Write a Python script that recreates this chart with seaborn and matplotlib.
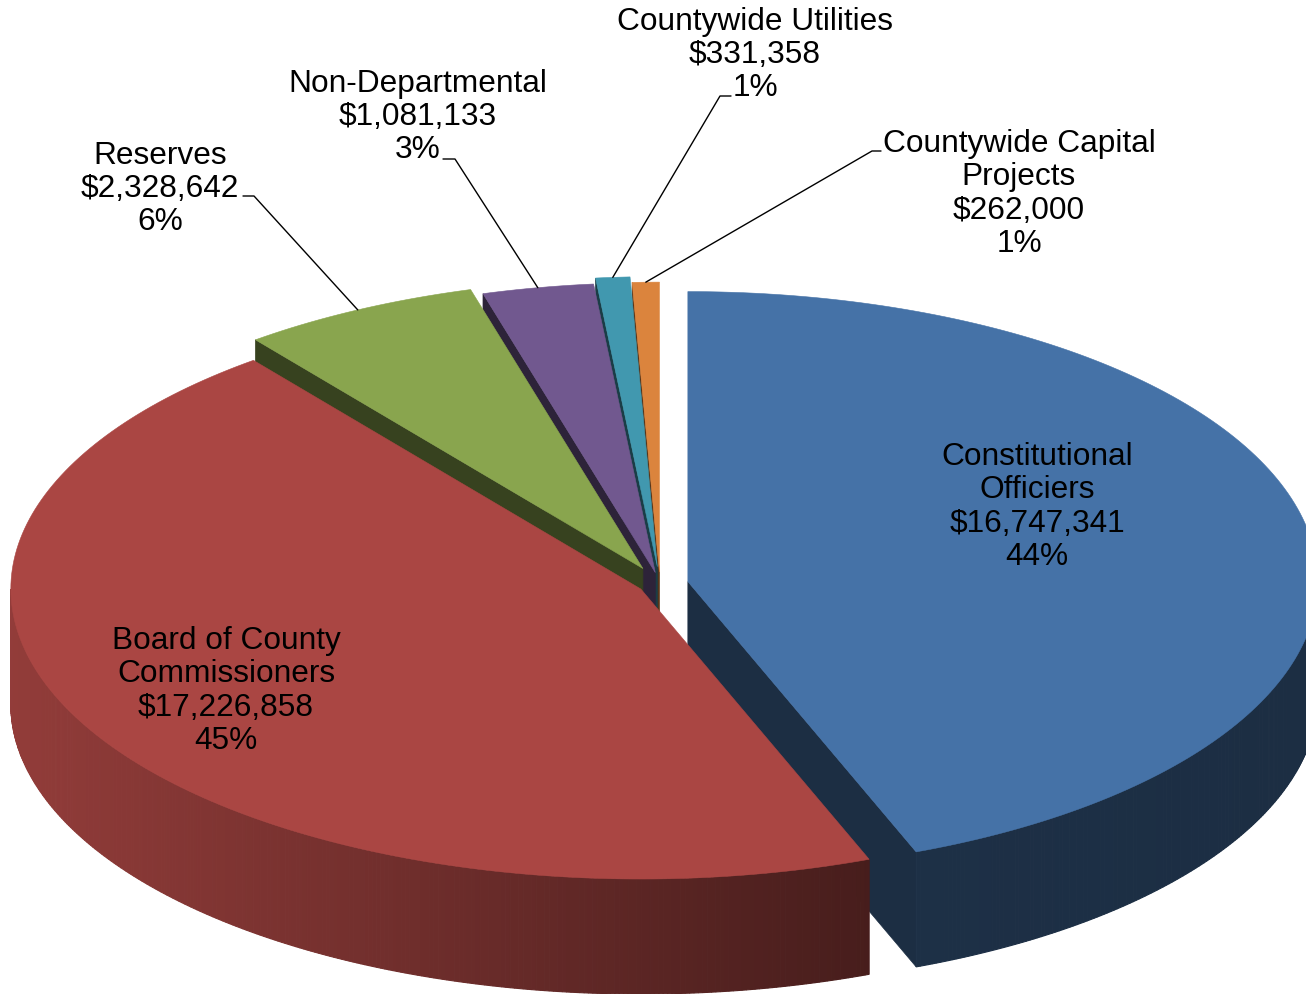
import numpy as np
import matplotlib
matplotlib.use("Agg")
import matplotlib.pyplot as plt
from matplotlib.patches import Polygon
from matplotlib.colors import to_rgb
import seaborn as sns

sns.set_theme(style="white")
plt.rcParams['font.family'] = ['Liberation Sans', 'DejaVu Sans']

# data
categories = ["Constitutional\nOfficiers", "Board of County\nCommissioners", "Reserves",
              "Non-Departmental", "Countywide Utilities", "Countywide Capital\nProjects"]
amounts = [16747341, 17226858, 2328642, 1081133, 331358, 262000]
pct_labels = ["44%", "45%", "6%", "3%", "1%", "1%"]

colors = sns.color_palette(["#4572A7", "#AA4643", "#89A54E", "#71588F", "#4198AF", "#DB843D"])
explode = [0.045, 0.035, 0.06, 0.04, 0.06, 0.041]

# layout of the 3d pie (pixel like units)
cx, cy = 660, 585
rx, ry = 630, 290
depth = 115

# label anchors: (x, y, leader line start or None)
label_pos = [
    (1037, 507, None),
    (226, 691, None),
    (160, 189, [(243, 197), (254, 197)]),
    (418, 117, [(443, 160), (455, 160)]),
    (755, 55, [(731, 97), (720, 97)]),
    (1019, 194, [(881, 152), (872, 152)]),
]

fig = plt.figure(figsize=(13.06, 9.95), dpi=100)
ax = fig.add_axes([0, 0, 1, 1])
ax.set_xlim(0, 1306)
ax.set_ylim(995, 0)
ax.axis("off")

fracs = np.array(amounts) / np.sum(amounts)
ends = 90 - 360 * np.cumsum(fracs)
starts = np.concatenate([[90], ends[:-1]])


def rim(x0, y0, t, dz=0):
    t = np.radians(t)
    return x0 + rx * np.cos(t), y0 - ry * np.sin(t) + dz


def shade(c, t):
    f = np.interp(np.cos(np.radians(t)), [-1, 0.36, 1], [0.86, 0.42, 0.40])
    return tuple(np.array(to_rgb(c)) * f)


slices = []
for i in range(len(amounts)):
    a1, a2 = ends[i], starts[i]
    mid = (a1 + a2) / 2
    x0 = cx + explode[i] * rx * np.cos(np.radians(mid))
    y0 = cy - explode[i] * ry * np.sin(np.radians(mid))
    slices.append((np.sin(np.radians(mid)), i, a1, a2, mid, x0, y0))

# back to front
for _, i, a1, a2, mid, x0, y0 in sorted(slices, reverse=True):
    c = colors[i]
    dark = tuple(np.array(to_rgb(c)) * 0.40)
    # radial faces
    for a, n in [(a2, a2 + 90), (a1, a1 - 90)]:
        if np.sin(np.radians(n)) < 0:
            px, py = rim(x0, y0, a)
            ax.add_patch(Polygon([(x0, y0), (px, py), (px, py + depth), (x0, y0 + depth)],
                                 closed=True, fc=dark, ec=dark, lw=0.5))
    # outer wall, front half only
    for lo, hi in [(-180, 0), (180, 360), (-540, -360)]:
        t0, t1 = max(a1, lo), min(a2, hi)
        if t1 <= t0:
            continue
        ts = np.linspace(t0, t1, max(int((t1 - t0) / 0.4), 2) + 1)
        for k in range(len(ts) - 1):
            xa, ya = rim(x0, y0, ts[k])
            xb, yb = rim(x0, y0, ts[k + 1])
            col = shade(c, (ts[k] + ts[k + 1]) / 2)
            ax.add_patch(Polygon([(xa, ya), (xb, yb), (xb, yb + depth), (xa, ya + depth)],
                                 closed=True, fc=col, ec=col, lw=0.8))
    # top
    ts = np.linspace(a1, a2, max(int(a2 - a1), 2) + 1)
    pts = [(x0, y0)] + [rim(x0, y0, t) for t in ts]
    ax.add_patch(Polygon(pts, closed=True, fc=c, ec=c, lw=0.4))

# labels
for i, (lx, ly, lead) in enumerate(label_pos):
    txt = f"{categories[i]}\n${amounts[i]:,}\n{pct_labels[i]}"
    ax.text(lx, ly, txt, ha="center", va="center", multialignment="center",
            fontsize=22.8, color="black", linespacing=1.14)
    if lead is not None:
        _, _, a1, a2, mid, x0, y0 = [s for s in slices if s[1] == i][0]
        px, py = rim(x0, y0, mid)
        xs = [p[0] for p in lead] + [px]
        ys = [p[1] for p in lead] + [py]
        ax.plot(xs, ys, color="black", lw=1.0)

fig.savefig("out.png", dpi=100, facecolor="white")
